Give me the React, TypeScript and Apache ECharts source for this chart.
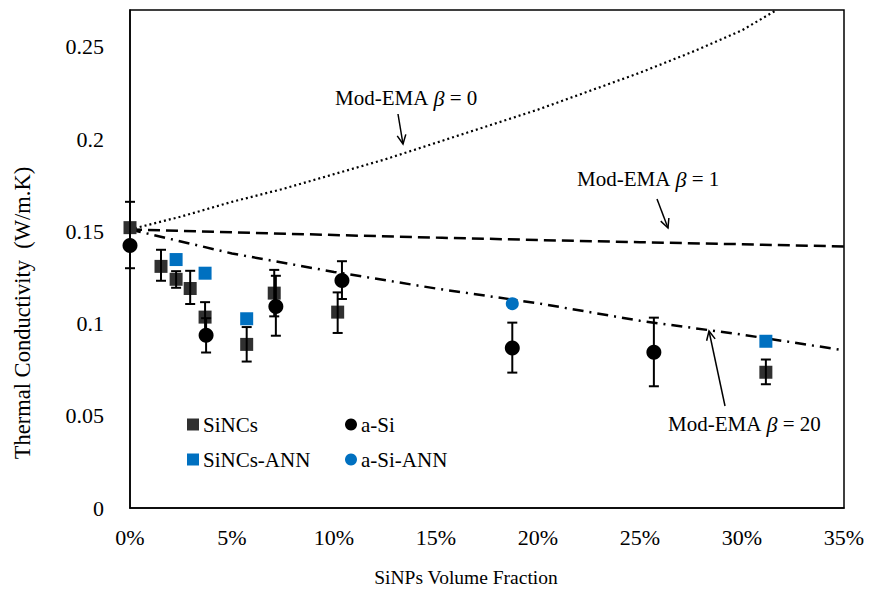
import React, { useEffect, useRef } from "react";
import * as echarts from "echarts";

// ---- data (volume fraction as fraction, thermal conductivity in W/m.K) ----
const sincsX = [0, 0.0152, 0.0226, 0.0295, 0.0368, 0.0572, 0.0707, 0.1018, 0.3117];
const sincsY = [0.152, 0.131, 0.124, 0.119, 0.1035, 0.0887, 0.1165, 0.1062, 0.0736];
const asiX = [0, 0.0373, 0.0715, 0.1039, 0.1874, 0.2568];
const asiY = [0.1423, 0.0936, 0.1093, 0.1234, 0.0868, 0.0844];
const sincsAnnX = [0.0226, 0.0368, 0.0572, 0.3117];
const sincsAnnY = [0.1347, 0.1273, 0.1026, 0.0904];
const asiAnnX = [0.1874];
const asiAnnY = [0.1108];

const errX = [0, 0.0152, 0.0226, 0.0295, 0.0368, 0.0373, 0.0572, 0.0707, 0.0715, 0.1018, 0.1039, 0.1874, 0.2568, 0.3117];
const errLow = [0.13, 0.1232, 0.1194, 0.1106, 0.0955, 0.0843, 0.0794, 0.1039, 0.0934, 0.0949, 0.1133, 0.0734, 0.066, 0.0671];
const errHigh = [0.166, 0.14, 0.1284, 0.1286, 0.1116, 0.1029, 0.0981, 0.1291, 0.1259, 0.1169, 0.1338, 0.1005, 0.1032, 0.0805];

const beta0X = [0, 0.025, 0.05, 0.075, 0.1, 0.125, 0.15, 0.175, 0.2, 0.225, 0.25, 0.275, 0.3, 0.317];
const beta0Y = [0.151, 0.158, 0.166, 0.173, 0.181, 0.189, 0.198, 0.207, 0.216, 0.226, 0.236, 0.247, 0.259, 0.27];
const beta1X = [0, 0.05, 0.1, 0.15, 0.2, 0.25, 0.3, 0.35];
const beta1Y = [0.151, 0.1495, 0.148, 0.1466, 0.1453, 0.1441, 0.143, 0.1418];
const beta20X = [0, 0.05, 0.1, 0.15, 0.2, 0.25, 0.3, 0.35];
const beta20Y = [0.151, 0.138, 0.128, 0.119, 0.111, 0.1015, 0.094, 0.0855];

const xTitle = "SiNPs Volume Fraction";
const yTitle = "Thermal Conductivity  (W/m.K)";

const FONT = "Times New Roman, Liberation Serif, serif";
const DARK = "#303030";
const BLUE = "#0070C0";

const zip = (a: number[], b: number[]) => a.map((v, i) => [v, b[i]]);

function arrow(x1: number, y1: number, x2: number, y2: number) {
  const ang = Math.atan2(y2 - y1, x2 - x1);
  const L = 10;
  const spread = 0.45;
  const a1 = [x2 - L * Math.cos(ang - spread), y2 - L * Math.sin(ang - spread)];
  const a2 = [x2 - L * Math.cos(ang + spread), y2 - L * Math.sin(ang + spread)];
  return [
    { type: "line", shape: { x1, y1, x2, y2 }, style: { stroke: "#000", lineWidth: 1.5 }, z: 100 },
    { type: "polyline", shape: { points: [a1, [x2, y2], a2] }, style: { stroke: "#000", lineWidth: 1.5, fill: null }, z: 100 },
  ];
}

function label(x: number, y: number, tail: string) {
  return {
    type: "text",
    x,
    y,
    z: 100,
    style: {
      text: "Mod-EMA {b|β} = " + tail,
      fontFamily: FONT,
      fontSize: 21,
      fill: "#000",
      textAlign: "left",
      textVerticalAlign: "middle",
      rich: { b: { fontStyle: "italic", fontSize: 22, fontFamily: FONT, fill: "#000" } },
    },
  };
}

const legendText = { fontFamily: FONT, fontSize: 21, color: "#000", padding: [0, 0, 0, -1] };

export default function App() {
  const ref = useRef<HTMLDivElement>(null);
  useEffect(() => {
    if (!ref.current) return;
    const chart = echarts.init(ref.current, null, { renderer: "svg" });
    const option: any = {
      animation: false,
      backgroundColor: "#fff",
      textStyle: { fontFamily: FONT },
      grid: { left: 130, right: 27, top: 10, bottom: 81, show: true, borderColor: "#000", borderWidth: 1.5 },
      xAxis: {
        type: "value",
        min: 0,
        max: 0.35,
        interval: 0.05,
        splitLine: { show: false },
        axisTick: { show: false },
        axisLine: { show: true, lineStyle: { color: "#000", width: 1.5 } },
        axisLabel: {
          margin: 18,
          color: "#000",
          fontFamily: FONT,
          fontSize: 22,
          formatter: (v: number) => Math.round(v * 100) + "%",
        },
      },
      yAxis: {
        type: "value",
        min: 0,
        max: 0.27,
        interval: 0.05,
        splitLine: { show: false },
        axisTick: { show: false },
        axisLine: { show: true, lineStyle: { color: "#000", width: 1.5 } },
        axisLabel: {
          margin: 26,
          color: "#000",
          fontFamily: FONT,
          fontSize: 22,
          showMaxLabel: false,
          formatter: (v: number) => String(Math.round(v * 100) / 100),
        },
      },
      legend: [
        {
          left: 182,
          top: 409,
          orient: "vertical",
          itemWidth: 12,
          itemHeight: 12,
          itemGap: 14,
          selectedMode: false,
          textStyle: legendText,
          data: [
            { name: "SiNCs", icon: "rect" },
            { name: "SiNCs-ANN", icon: "rect" },
          ],
        },
        {
          left: 340,
          top: 409,
          orient: "vertical",
          itemWidth: 12,
          itemHeight: 12,
          itemGap: 14,
          selectedMode: false,
          textStyle: legendText,
          data: [
            { name: "a-Si", icon: "circle" },
            { name: "a-Si-ANN", icon: "circle" },
          ],
        },
      ],
      series: [
        {
          name: "Mod-EMA β = 0",
          type: "line",
          data: zip(beta0X, beta0Y),
          showSymbol: false,
          symbol: "none",
          lineStyle: { color: "#000", width: 2.2, type: [2, 3] },
          z: 2,
        },
        {
          name: "Mod-EMA β = 1",
          type: "line",
          data: zip(beta1X, beta1Y),
          showSymbol: false,
          symbol: "none",
          lineStyle: { color: "#000", width: 2.5, type: [12, 6] },
          z: 2,
        },
        {
          name: "Mod-EMA β = 20",
          type: "line",
          data: zip(beta20X, beta20Y),
          showSymbol: false,
          symbol: "none",
          lineStyle: { color: "#000", width: 2.5, type: [11, 6, 2, 6] },
          z: 2,
        },
        {
          name: "SiNCs",
          type: "scatter",
          data: zip(sincsX, sincsY),
          symbol: "rect",
          symbolSize: 13,
          itemStyle: { color: DARK, opacity: 1 },
          z: 3,
        },
        {
          name: "a-Si",
          type: "scatter",
          data: zip(asiX, asiY),
          symbol: "circle",
          symbolSize: 15,
          itemStyle: { color: "#000", opacity: 1 },
          z: 3,
        },
        {
          name: "SiNCs-ANN",
          type: "scatter",
          data: zip(sincsAnnX, sincsAnnY),
          symbol: "rect",
          symbolSize: 13,
          itemStyle: { color: BLUE, opacity: 1 },
          z: 3,
        },
        {
          name: "a-Si-ANN",
          type: "scatter",
          data: zip(asiAnnX, asiAnnY),
          symbol: "circle",
          symbolSize: 13,
          itemStyle: { color: BLUE, opacity: 1 },
          z: 3,
        },
        {
          name: "errors",
          type: "custom",
          data: errX.map((x, i) => [x, errLow[i], errHigh[i]]),
          encode: { x: 0, y: [1, 2] },
          z: 4,
          renderItem: (params: any, api: any) => {
            const x = api.value(0);
            const lo = api.coord([x, api.value(1)]);
            const hi = api.coord([x, api.value(2)]);
            const w = 5;
            const st = { stroke: "#000", lineWidth: 2 };
            return {
              type: "group",
              children: [
                { type: "line", shape: { x1: lo[0], y1: lo[1], x2: hi[0], y2: hi[1] }, style: st },
                { type: "line", shape: { x1: lo[0] - w, y1: lo[1], x2: lo[0] + w, y2: lo[1] }, style: st },
                { type: "line", shape: { x1: hi[0] - w, y1: hi[1], x2: hi[0] + w, y2: hi[1] }, style: st },
              ],
            };
          },
        },
      ],
      graphic: [
        {
          type: "text",
          x: 22,
          y: 313,
          rotation: Math.PI / 2,
          z: 100,
          style: {
            text: yTitle,
            fontFamily: FONT,
            fontSize: 22.5,
            fill: "#000",
            textAlign: "center",
            textVerticalAlign: "middle",
          },
        },
        {
          type: "text",
          x: 466,
          y: 577,
          z: 100,
          style: {
            text: xTitle,
            fontFamily: FONT,
            fontSize: 19.5,
            fill: "#000",
            textAlign: "center",
            textVerticalAlign: "middle",
          },
        },
        label(335, 98, "0"),
        label(577, 179, "1"),
        label(668, 424, "20"),
        ...arrow(398, 114, 403, 144),
        ...arrow(657, 199, 668, 228),
        ...arrow(725, 406, 709, 331),
      ],
    };
    chart.setOption(option);
    return () => chart.dispose();
  }, []);
  return (
    <div
      ref={ref}
      style={{ position: "absolute", left: 0, top: 0, width: 871, height: 589 }}
    />
  );
}
